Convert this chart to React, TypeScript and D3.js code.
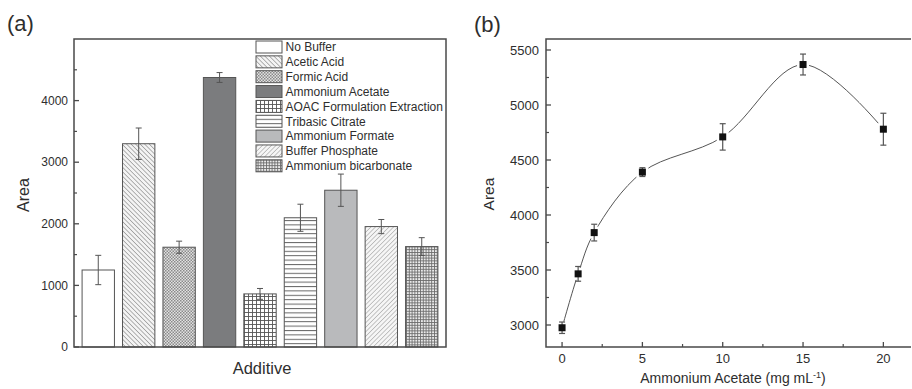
import React from 'react';
import * as d3 from 'd3';

// panel (a) data
const additives = [
  'No Buffer',
  'Acetic Acid',
  'Formic Acid',
  'Ammonium Acetate',
  'AOAC Formulation Extraction',
  'Tribasic Citrate',
  'Ammonium Formate',
  'Buffer Phosphate',
  'Ammonium bicarbonate',
];
const additiveArea = [1250, 3300, 1620, 4375, 862, 2098, 2545, 1955, 1630];
const additiveErr = [238, 255, 98, 80, 88, 220, 262, 115, 145];
const areaTicksA = [0, 1000, 2000, 3000, 4000];

// panel (b) data
const concentration = [0, 1, 2, 5, 10, 15, 20];
const concArea = [2975, 3465, 3840, 4390, 4710, 5368, 4780];
const concErr = [52, 67, 76, 40, 120, 95, 145];
const areaTicksB = [3000, 3500, 4000, 4500, 5000, 5500];
const concTicks = [0, 5, 10, 15, 20];

const FONT = '"Liberation Sans", Arial, sans-serif';
const INK = '#2e2e2e';
const AXIS = '#4a4a4a';

// fills for each additive bar (same order as additives)
const fills = [
  '#ffffff',
  'url(#pAcetic)',
  'url(#pFormic)',
  '#7b7c7e',
  'url(#pAoac)',
  'url(#pCitrate)',
  '#b9babc',
  'url(#pPhosphate)',
  'url(#pBicarb)',
];

const Patterns = () => (
  <defs>
    <pattern id="pAcetic" width="3.2" height="3.2" patternUnits="userSpaceOnUse" patternTransform="rotate(-45)">
      <rect width="3.2" height="3.2" fill="#f4f4f4" />
      <line x1="0" y1="0" x2="0" y2="3.2" stroke="#7a7a7a" strokeWidth="1.1" />
    </pattern>
    <pattern id="pFormic" width="3" height="3" patternUnits="userSpaceOnUse">
      <rect width="3" height="3" fill="#e2e2e2" />
      <rect width="1.5" height="1.5" fill="#8a8a8a" />
      <rect x="1.5" y="1.5" width="1.5" height="1.5" fill="#8a8a8a" />
    </pattern>
    <pattern id="pAoac" width="4" height="4" patternUnits="userSpaceOnUse">
      <rect width="4" height="4" fill="#ffffff" />
      <line x1="0.5" y1="0" x2="0.5" y2="4" stroke="#555" strokeWidth="0.9" />
      <line x1="0" y1="0.5" x2="4" y2="0.5" stroke="#555" strokeWidth="0.9" />
    </pattern>
    <pattern id="pCitrate" width="4" height="4.4" patternUnits="userSpaceOnUse">
      <rect width="4" height="4.4" fill="#ffffff" />
      <line x1="0" y1="0.5" x2="4" y2="0.5" stroke="#666" strokeWidth="1" />
    </pattern>
    <pattern id="pPhosphate" width="3.2" height="3.2" patternUnits="userSpaceOnUse" patternTransform="rotate(45)">
      <rect width="3.2" height="3.2" fill="#f6f6f6" />
      <line x1="0" y1="0" x2="0" y2="3.2" stroke="#9a9a9a" strokeWidth="1.1" />
    </pattern>
    <pattern id="pBicarb" width="2.8" height="2.8" patternUnits="userSpaceOnUse">
      <rect width="2.8" height="2.8" fill="#ededed" />
      <line x1="0.5" y1="0" x2="0.5" y2="2.8" stroke="#6a6a6a" strokeWidth="0.9" />
      <line x1="0" y1="0.5" x2="2.8" y2="0.5" stroke="#6a6a6a" strokeWidth="0.9" />
    </pattern>
  </defs>
);

const PanelA = () => {
  const left = 74, top = 39, right = 446, bottom = 347;
  const x = d3.scaleBand<string>().domain(additives).range([left, right]).paddingInner(0.2).paddingOuter(0.2);
  const y = d3.scaleLinear().domain([0, 5000]).range([bottom, top]);
  const minor = d3.range(500, 5000, 1000);

  return (
    <g>
      <text x={7} y={31} fontSize={22} fill={INK} fontFamily={FONT}>(a)</text>

      {additives.map((name, i) => {
        const bx = x(name)!;
        const bw = x.bandwidth();
        const cx = bx + bw / 2;
        return (
          <g key={name}>
            <rect x={bx} y={y(additiveArea[i])} width={bw} height={bottom - y(additiveArea[i])}
              fill={fills[i]} stroke="#555" strokeWidth={1} />
            <line x1={cx} x2={cx} y1={y(additiveArea[i] + additiveErr[i])} y2={y(additiveArea[i] - additiveErr[i])}
              stroke="#555" strokeWidth={1} />
            <line x1={cx - 3} x2={cx + 3} y1={y(additiveArea[i] + additiveErr[i])} y2={y(additiveArea[i] + additiveErr[i])}
              stroke="#555" strokeWidth={1} />
            <line x1={cx - 3} x2={cx + 3} y1={y(additiveArea[i] - additiveErr[i])} y2={y(additiveArea[i] - additiveErr[i])}
              stroke="#555" strokeWidth={1} />
          </g>
        );
      })}

      <rect x={left} y={top} width={right - left} height={bottom - top} fill="none" stroke={AXIS} strokeWidth={1.5} />

      {areaTicksA.map(t => (
        <g key={t}>
          <line x1={left} x2={left + 5} y1={y(t)} y2={y(t)} stroke={AXIS} strokeWidth={1.3} />
          <text x={left - 6} y={y(t)} dy="0.35em" textAnchor="end" fontSize={12} fill={INK} fontFamily={FONT}>{t}</text>
        </g>
      ))}
      {minor.map(t => (
        <line key={t} x1={left} x2={left + 3} y1={y(t)} y2={y(t)} stroke={AXIS} strokeWidth={1.2} />
      ))}

      <text transform={`translate(29,${(top + bottom) / 2 + 2}) rotate(-90)`} textAnchor="middle"
        fontSize={16} fill={INK} fontFamily={FONT}>Area</text>
      <text x={(left + right) / 2 + 2} y={374} textAnchor="middle" fontSize={16.5} fill={INK} fontFamily={FONT}>Additive</text>

      {additives.map((name, i) => {
        const ly = 41 + i * 14.85;
        return (
          <g key={name}>
            <rect x={256} y={ly} width={26} height={12} fill={fills[i]} stroke="#555" strokeWidth={1} />
            <text x={285.5} y={ly + 6} dy="0.36em" fontSize={12} fill={INK} fontFamily={FONT}>{name}</text>
          </g>
        );
      })}
    </g>
  );
};

const PanelB = () => {
  const left = 546, top = 39, right = 911, bottom = 347;
  const x = d3.scaleLinear().domain([-1, 21.72]).range([left, right]);
  const y = d3.scaleLinear().domain([2800, 5600]).range([bottom, top]);
  const minorX = d3.range(2.5, 21, 5);
  const minorY = d3.range(3250, 5600, 500);
  const pts: [number, number][] = concentration.map((c, i) => [x(c), y(concArea[i])]);
  const curve = d3.line().curve(d3.curveCatmullRom.alpha(0.5))(pts) ?? '';

  return (
    <g>
      <text x={474} y={32} fontSize={22} fill={INK} fontFamily={FONT}>(b)</text>

      <path d={curve} fill="none" stroke="#555" strokeWidth={1} />
      {pts.map(([px, py], i) => (
        <rect key={`gap${i}`} x={px - 6} y={py - 6} width={12} height={12} fill="#fff" />
      ))}
      {concentration.map((c, i) => {
        const cx = x(c);
        const hi = y(concArea[i] + concErr[i]);
        const lo = y(concArea[i] - concErr[i]);
        return (
          <g key={c}>
            <line x1={cx} x2={cx} y1={hi} y2={lo} stroke="#555" strokeWidth={1.2} />
            <line x1={cx - 3} x2={cx + 3} y1={hi} y2={hi} stroke="#555" strokeWidth={1.2} />
            <line x1={cx - 3} x2={cx + 3} y1={lo} y2={lo} stroke="#555" strokeWidth={1.2} />
            <rect x={cx - 3.5} y={y(concArea[i]) - 3.5} width={7} height={7} fill="#111" />
          </g>
        );
      })}

      <path d={`M${right},${top}H${left}V${bottom}H${right}`} fill="none" stroke={AXIS} strokeWidth={1.5} />

      {areaTicksB.map(t => (
        <g key={t}>
          <line x1={left} x2={left + 5} y1={y(t)} y2={y(t)} stroke={AXIS} strokeWidth={1.3} />
          <text x={left - 7} y={y(t)} dy="0.35em" textAnchor="end" fontSize={13} fill={INK} fontFamily={FONT}>{t}</text>
        </g>
      ))}
      {minorY.map(t => (
        <line key={t} x1={left} x2={left + 3} y1={y(t)} y2={y(t)} stroke={AXIS} strokeWidth={1.2} />
      ))}
      {concTicks.map(t => (
        <g key={t}>
          <line x1={x(t)} x2={x(t)} y1={bottom} y2={bottom - 5} stroke={AXIS} strokeWidth={1.3} />
          <text x={x(t)} y={363} textAnchor="middle" fontSize={13} fill={INK} fontFamily={FONT}>{t}</text>
        </g>
      ))}
      {minorX.map(t => (
        <line key={t} x1={x(t)} x2={x(t)} y1={bottom} y2={bottom - 3} stroke={AXIS} strokeWidth={1.2} />
      ))}

      <text transform={`translate(494,${(top + bottom) / 2 + 1}) rotate(-90)`} textAnchor="middle"
        fontSize={15.5} fill={INK} fontFamily={FONT}>Area</text>
      <text x={733} y={383} textAnchor="middle" fontSize={14} fill={INK} fontFamily={FONT}>
        Ammonium Acetate (mg mL<tspan dy={-5} fontSize={9}>-1</tspan><tspan dy={5}>)</tspan>
      </text>
    </g>
  );
};

export default function App() {
  return (
    <svg width={912} height={389} style={{ position: 'absolute', left: 0, top: 0, background: '#fff' }}>
      <Patterns />
      <rect width={912} height={389} fill="#fff" />
      <PanelA />
      <PanelB />
    </svg>
  );
}
